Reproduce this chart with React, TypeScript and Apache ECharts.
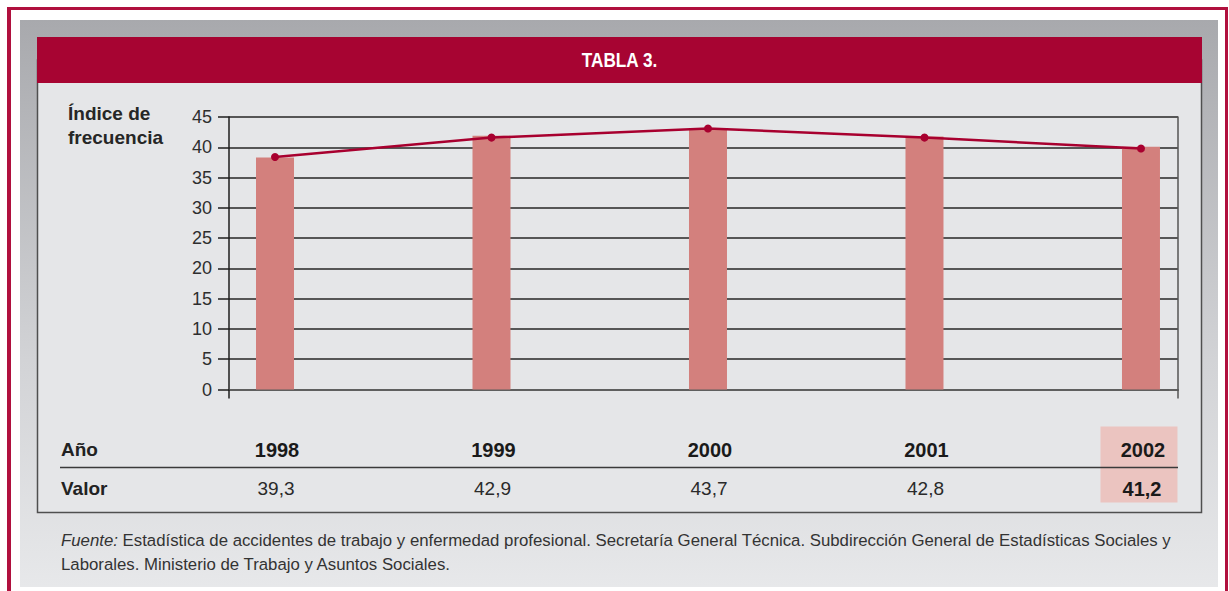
import React, { useEffect, useRef } from "react";
import * as echarts from "echarts";

// ---- data ----
const years = [1998, 1999, 2000, 2001, 2002];
const barValues = [38.3, 41.9, 43.2, 41.8, 40.1];
const lineValues = [38.4, 41.6, 43.1, 41.6, 39.8];
const tableValues = [39.3, 42.9, 43.7, 42.8, 41.2];
const yMin = 0;
const yMax = 45;
const yInterval = 5;
const titleText = "TABLA 3.";
const yTitleLines = ["Índice de", "frecuencia"];
const rowLabels = ["Año", "Valor"];
const highlightYear = 2002;
const sourceItalic = "Fuente:";
const sourceLine1 =
  " Estadística de accidentes de trabajo y enfermedad profesional. Secretaría General Técnica. Subdirección General de Estadísticas Sociales y";
const sourceLine2 = "Laborales. Ministerio de Trabajo y Asuntos Sociales.";

const FONT = "'Liberation Sans', Arial, sans-serif";
const RED = "#a70432";
const FRAME = "#b0103e";

export default function App() {
  const ref = useRef<HTMLDivElement>(null);
  useEffect(() => {
    if (!ref.current) return;
    const chart = echarts.init(ref.current, undefined, { renderer: "svg" });
    const xMin = 1997.7875;
    const xMax = 2002.171;
    const option: any = {
      animation: false,
      backgroundColor: "#ffffff",
      grid: { left: 229, right: 51, top: 117, bottom: 201.5 },
      xAxis: {
        type: "value",
        min: xMin,
        max: xMax,
        axisLine: { show: true, onZero: false, lineStyle: { color: "#5f5f5f", width: 2 } },
        axisTick: { show: false },
        axisLabel: { show: false },
        splitLine: { show: false },
      },
      yAxis: [
        {
          type: "value",
          min: yMin,
          max: yMax,
          interval: yInterval,
          axisLine: { show: true, lineStyle: { color: "#1e1e1e", width: 1.5 } },
          axisTick: { show: true, inside: false, length: 11, lineStyle: { color: "#1e1e1e", width: 1.5 } },
          axisLabel: { margin: 17, color: "#2e2e2e", fontSize: 18, fontFamily: FONT },
          splitLine: { show: true, lineStyle: { color: "#262626", width: 1.5 } },
        },
        {
          type: "value",
          position: "right",
          min: yMin,
          max: yMax,
          interval: yInterval,
          axisLine: { show: true, lineStyle: { color: "#555555", width: 1.5 } },
          axisTick: { show: false },
          axisLabel: { show: false },
          splitLine: { show: false },
        },
      ],
      series: [
        {
          type: "bar",
          data: years.map((y, i) => [y, barValues[i]]),
          barWidth: 38,
          itemStyle: { color: "#d3807d" },
          z: 2,
        },
        {
          type: "line",
          data: years.map((y, i) => [y, lineValues[i]]),
          lineStyle: { color: "#a8002f", width: 2.5 },
          itemStyle: { color: "#a8002f" },
          symbol: "circle",
          symbolSize: 8,
          z: 3,
        },
      ],
    };
    chart.setOption(option);

    const xs = years.map((y) => chart.convertToPixel({ xAxisIndex: 0 }, y) as number);
    const xLeft = chart.convertToPixel({ xAxisIndex: 0 }, xMin) as number;
    const xRight = chart.convertToPixel({ xAxisIndex: 0 }, xMax) as number;
    const y0 = chart.convertToPixel({ yAxisIndex: 0 }, 0) as number;

    const hiIdx = years.indexOf(highlightYear);
    const graphic: any[] = [
      // frame
      { type: "rect", z: -20, shape: { x: 7, y: 7, width: 1221, height: 3 }, style: { fill: FRAME } },
      { type: "rect", z: -20, shape: { x: 7, y: 7, width: 4, height: 584 }, style: { fill: FRAME } },
      { type: "rect", z: -20, shape: { x: 1225, y: 7, width: 3, height: 584 }, style: { fill: FRAME } },
      // grey panel
      {
        type: "rect",
        z: -19,
        shape: { x: 20, y: 20, width: 1198, height: 567 },
        style: {
          fill: new echarts.graphic.LinearGradient(0, 0, 0, 1, [
            { offset: 0, color: "#a8a9ad" },
            { offset: 0.6, color: "#d2d3d6" },
            { offset: 1, color: "#e7e8ea" },
          ]),
        },
      },
      // inner box
      {
        type: "rect",
        z: -18,
        shape: { x: 37.5, y: 60, width: 1164, height: 452.5 },
        style: { fill: "#e5e6e8", stroke: "#4f4f4f", lineWidth: 1.5 },
      },
      // title bar
      { type: "rect", z: -17, shape: { x: 37, y: 37, width: 1165, height: 46 }, style: { fill: RED } },
      {
        type: "text",
        z: 10,
        x: 619.5,
        y: 60,
        scaleX: 0.86,
        style: {
          text: titleText,
          fill: "#ffffff",
          font: `bold 20px ${FONT}`,
          textAlign: "center",
          textVerticalAlign: "middle",
        },
      },
      // y title
      ...yTitleLines.map((t, i) => ({
        type: "text",
        z: 10,
        x: 68,
        y: 113.5 + i * 23.5,
        style: { text: t, fill: "#262626", font: `bold 19px ${FONT}`, textAlign: "left", textVerticalAlign: "middle" },
      })),
      // axis extensions below zero
      { type: "line", z: 5, shape: { x1: xLeft, y1: y0, x2: xLeft, y2: y0 + 9 }, style: { stroke: "#1e1e1e", lineWidth: 1.5 } },
      { type: "line", z: 5, shape: { x1: xRight, y1: y0, x2: xRight, y2: y0 + 9 }, style: { stroke: "#555555", lineWidth: 1.5 } },
      // highlight
      {
        type: "rect",
        z: -5,
        shape: { x: xs[hiIdx] - 40.5, y: 426.5, width: 77, height: 76 },
        style: { fill: "#ebc4c0" },
      },
      // table separator
      { type: "line", z: 5, shape: { x1: 60, y1: 467.5, x2: xRight, y2: 467.5 }, style: { stroke: "#3a3a3a", lineWidth: 1.5 } },
      // row labels
      ...rowLabels.map((t, i) => ({
        type: "text",
        z: 10,
        x: 61,
        y: 449 + i * 39.5,
        style: { text: t, fill: "#222222", font: `bold 19px ${FONT}`, textAlign: "left", textVerticalAlign: "middle" },
      })),
      // years row
      ...years.map((yv, i) => ({
        type: "text",
        z: 10,
        x: xs[i] + 2,
        y: 449.5,
        style: { text: String(yv), fill: "#1a1a1a", font: `bold 20px ${FONT}`, textAlign: "center", textVerticalAlign: "middle" },
      })),
      // values row
      ...tableValues.map((v, i) => ({
        type: "text",
        z: 10,
        x: xs[i] + 1,
        y: 488.5,
        style: {
          text: v.toFixed(1).replace(".", ","),
          fill: years[i] === highlightYear ? "#1a1a1a" : "#2a2a2a",
          font: `${years[i] === highlightYear ? "bold 20px" : "19px"} ${FONT}`,
          textAlign: "center",
          textVerticalAlign: "middle",
        },
      })),
      // source
      {
        type: "text",
        z: 10,
        x: 61,
        y: 540,
        style: {
          text: `{i|${sourceItalic}}{r|${sourceLine1}}`,
          textVerticalAlign: "middle",
          rich: {
            i: { font: `italic 16.8px ${FONT}`, fill: "#333333" },
            r: { font: `16.8px ${FONT}`, fill: "#333333" },
          },
        },
      },
      {
        type: "text",
        z: 10,
        x: 61,
        y: 564,
        style: { text: sourceLine2, fill: "#333333", font: `16.8px ${FONT}`, textVerticalAlign: "middle" },
      },
    ];
    chart.setOption({ graphic });
    return () => chart.dispose();
  }, []);
  return <div ref={ref} style={{ position: "absolute", left: 0, top: 0, width: 1229, height: 591 }} />;
}
